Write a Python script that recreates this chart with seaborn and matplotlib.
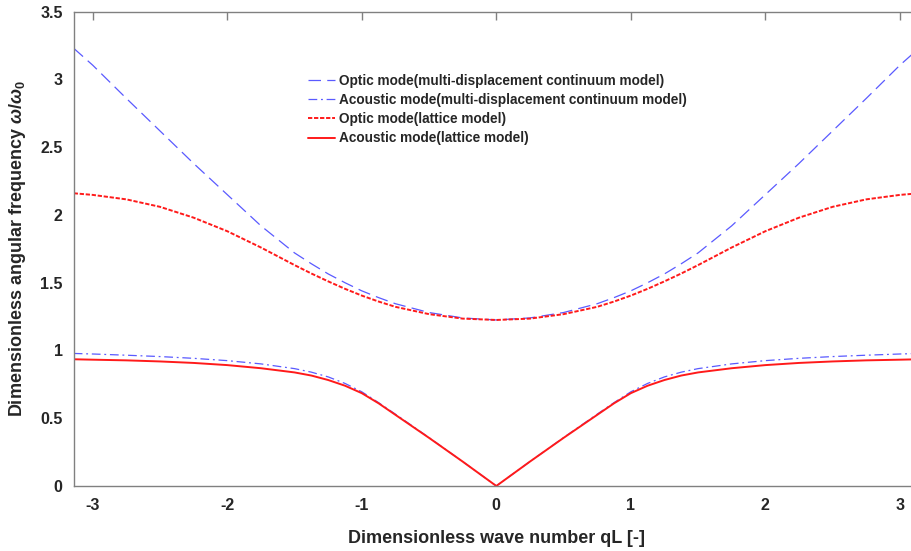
import numpy as np
import pandas as pd
import matplotlib
matplotlib.use("Agg")
import matplotlib.pyplot as plt
import seaborn as sns

# Dimensionless wave number qL over the first Brillouin zone
q = [-np.pi, -3.0, -2.75, -2.5, -2.25, -2.0, -1.75, -1.5, -1.375, -1.25, -1.125, -1.0, -0.875,
     -0.75, -0.5, -0.25, 0.0, 0.25, 0.5, 0.75, 0.875, 1.0, 1.125, 1.25, 1.375, 1.5, 1.75,
     2.0, 2.25, 2.5, 2.75, 3.0, np.pi]

# Dimensionless angular frequency omega/omega_0 for each branch
optic_continuum = [3.23, 3.105, 2.86, 2.62, 2.38, 2.15, 1.92, 1.72, 1.64, 1.565, 1.50, 1.44, 1.39,
                   1.345, 1.28, 1.24, 1.225, 1.24, 1.28, 1.345, 1.39, 1.44, 1.50, 1.565, 1.64, 1.72, 1.92,
                   2.15, 2.38, 2.62, 2.86, 3.105, 3.23]
acoustic_continuum = [0.978, 0.974, 0.965, 0.955, 0.942, 0.925, 0.901, 0.866, 0.84, 0.805, 0.757, 0.695, 0.615,
                      0.53, 0.357, 0.18, 0.0, 0.18, 0.357, 0.53, 0.615, 0.695, 0.757, 0.805, 0.84, 0.866, 0.901,
                      0.925, 0.942, 0.955, 0.965, 0.974, 0.978]
optic_lattice = [2.16, 2.148, 2.115, 2.06, 1.98, 1.88, 1.76, 1.63, 1.568, 1.51, 1.455, 1.405, 1.361,
                 1.322, 1.268, 1.235, 1.225, 1.235, 1.268, 1.322, 1.361, 1.405, 1.455, 1.51, 1.568, 1.63, 1.76,
                 1.88, 1.98, 2.06, 2.115, 2.148, 2.16]
acoustic_lattice = [0.935, 0.932, 0.927, 0.919, 0.908, 0.892, 0.869, 0.838, 0.815, 0.782, 0.74, 0.685, 0.61,
                    0.525, 0.355, 0.18, 0.0, 0.18, 0.355, 0.525, 0.61, 0.685, 0.74, 0.782, 0.815, 0.838, 0.869,
                    0.892, 0.908, 0.919, 0.927, 0.932, 0.935]

labels = [
    "Optic mode(multi-displacement continuum model)",
    "Acoustic mode(multi-displacement continuum model)",
    "Optic mode(lattice model)",
    "Acoustic mode(lattice model)",
]
series = [optic_continuum, acoustic_continuum, optic_lattice, acoustic_lattice]

sns.set_style("white")
plt.rcParams["font.family"] = ["Liberation Sans", "DejaVu Sans"]
plt.rcParams["font.weight"] = "bold"
plt.rcParams["mathtext.fontset"] = "custom"
plt.rcParams["mathtext.rm"] = "Liberation Sans"
plt.rcParams["mathtext.it"] = "Liberation Sans:italic"

fig = plt.figure(figsize=(9.12, 5.51), dpi=100)
ax = fig.add_axes([0.0808, 0.118, 0.9268, 0.8608])

styles = [
    dict(color="#5a5aff", lw=0.9, dashes=(10, 5)),
    dict(color="#5a5aff", lw=0.9, dashes=(7, 3, 1.5, 3)),
    dict(color="#ff1a1a", lw=1.4, dashes=(2.2, 0.9)),
    dict(color="#ff1a1a", lw=1.4, dashes=()),
]

for vals, lab, st in zip(series, labels, styles):
    df = pd.DataFrame({"q": q, "w": vals})
    sns.lineplot(data=df, x="q", y="w", ax=ax, label=lab, sort=False,
                 estimator=None, color=st["color"], lw=st["lw"])
    ln = ax.get_lines()[-1]
    if st["dashes"]:
        ln.set_dashes(st["dashes"])

ax.set_xlim(-np.pi, np.pi)
ax.set_ylim(0, 3.5)
ax.set_xticks([-3, -2, -1, 0, 1, 2, 3])
ax.set_xticklabels(["-3", "-2", "-1", "0", "1", "2", "3"])
ax.set_yticks([0, 0.5, 1, 1.5, 2, 2.5, 3, 3.5])
ax.set_yticklabels(["0", "0.5", "1", "1.5", "2", "2.5", "3", "3.5"])

for sp in ax.spines.values():
    sp.set_color("#808080")
    sp.set_linewidth(1.0)
ax.tick_params(axis="both", which="both", direction="in", length=6, width=1,
               color="#808080", top=True, right=True, labelsize=11.5)
ax.tick_params(axis="y", pad=8)
ax.tick_params(axis="x", pad=9)
for t in ax.get_xticklabels() + ax.get_yticklabels():
    t.set_fontweight("bold")

ax.set_xlabel("Dimensionless wave number qL [-]", fontsize=13, fontweight="bold", labelpad=12)
ax.set_ylabel(r"Dimensionless angular frequency $\omega/\omega_0$", fontsize=13,
              fontweight="bold", labelpad=9)

leg = ax.legend(loc="upper left", bbox_to_anchor=(0.3377, 0.8656),
                bbox_transform=fig.transFigure, frameon=False, fontsize=9.8,
                handlelength=2.0, handletextpad=0.25, labelspacing=0.375,
                borderpad=0, borderaxespad=0)
for t in leg.get_texts():
    t.set_fontweight("bold")

fig.savefig("out.png", dpi=100)
